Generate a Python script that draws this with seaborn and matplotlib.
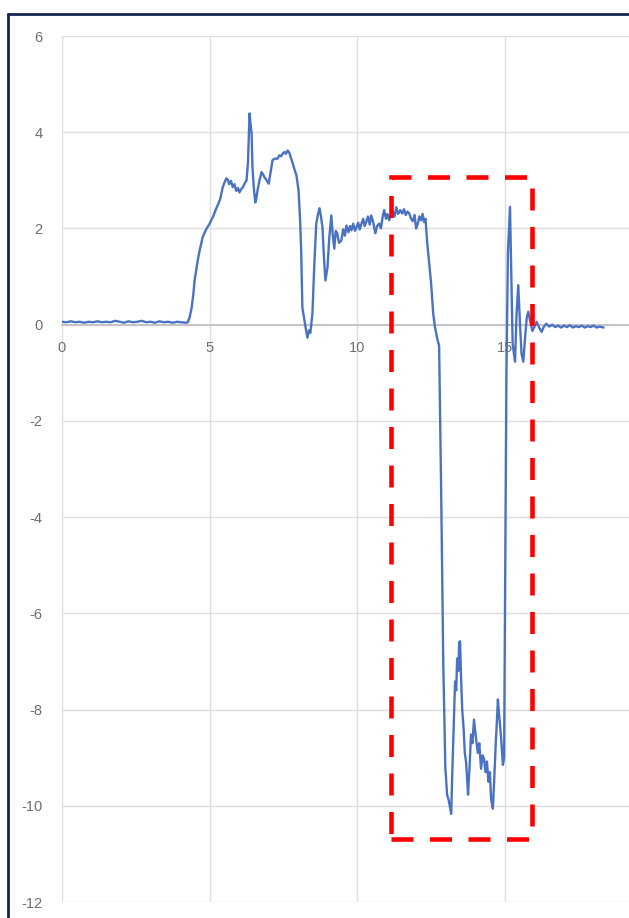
import seaborn as sns
import matplotlib.pyplot as plt
import numpy as np
import pandas as pd
from matplotlib.patches import Rectangle
from matplotlib.lines import Line2D

# 구간별로 그림에서 읽은 값 (x, y)
t_base = [0.00, 0.15, 0.30, 0.45, 0.60, 0.75, 0.90, 1.05, 1.20, 1.35, 1.50, 1.65, 1.80, 1.95, 2.10,
          2.25, 2.40, 2.55, 2.70, 2.85, 3.00, 3.15, 3.30, 3.45, 3.60, 3.75, 3.90, 4.05, 4.20]
v_base = [0.06, 0.05, 0.07, 0.05, 0.06, 0.04, 0.06, 0.05, 0.07, 0.05, 0.06, 0.05, 0.08, 0.06, 0.04,
          0.07, 0.05, 0.06, 0.08, 0.05, 0.06, 0.04, 0.07, 0.05, 0.06, 0.04, 0.06, 0.05, 0.04]

t_rise = [4.26, 4.32, 4.39, 4.45, 4.49, 4.55, 4.60, 4.66, 4.71, 4.76, 4.82, 4.88, 5.00, 5.06, 5.12,
          5.18, 5.24, 5.30, 5.36, 5.44, 5.50, 5.56, 5.61, 5.66, 5.72, 5.78, 5.84, 5.90, 5.96, 6.01,
          6.07, 6.12, 6.18, 6.25, 6.30, 6.35, 6.38, 6.42, 6.45, 6.50, 6.55, 6.58, 6.62, 6.68, 6.76,
          6.81, 6.86, 6.93, 7.00, 7.06, 7.13, 7.20, 7.30, 7.36, 7.42, 7.48, 7.53, 7.58, 7.64, 7.70,
          7.76, 7.80, 7.86, 7.94, 8.01, 8.06, 8.10, 8.14]
v_rise = [0.05, 0.15, 0.35, 0.65, 0.92, 1.15, 1.35, 1.54, 1.68, 1.81, 1.90, 1.98, 2.10, 2.18, 2.25,
          2.35, 2.44, 2.52, 2.62, 2.85, 2.95, 3.04, 3.02, 2.92, 2.99, 2.86, 2.92, 2.78, 2.84, 2.75,
          2.82, 2.85, 2.93, 3.00, 3.40, 4.39, 4.20, 3.98, 3.27, 2.80, 2.54, 2.62, 2.79, 2.98, 3.17,
          3.12, 3.06, 3.00, 2.93, 3.15, 3.42, 3.45, 3.45, 3.52, 3.50, 3.56, 3.59, 3.55, 3.62, 3.57,
          3.45, 3.38, 3.25, 3.10, 2.79, 2.20, 1.54, 0.35]

t_mid = [8.21, 8.26, 8.31, 8.36, 8.41, 8.48, 8.54, 8.61, 8.67, 8.72, 8.77, 8.82, 8.87, 8.92, 8.99,
         9.05, 9.12, 9.17, 9.22, 9.27, 9.32, 9.38, 9.46, 9.52, 9.58, 9.63, 9.70, 9.75, 9.80, 9.86,
         9.92, 9.97, 10.03, 10.08, 10.14, 10.20, 10.25, 10.30, 10.36, 10.42, 10.47, 10.53, 10.61, 10.67, 10.74,
         10.80, 10.86, 10.91, 10.97, 11.02, 11.08, 11.14, 11.20, 11.26, 11.32, 11.38, 11.45, 11.52, 11.58, 11.64,
         11.70, 11.76, 11.82, 11.88, 11.94, 11.99, 12.05, 12.10, 12.16, 12.21, 12.26, 12.31, 12.36, 12.43, 12.50,
         12.57, 12.63, 12.70]
v_mid = [0.08, -0.10, -0.27, -0.12, -0.17, 0.23, 1.20, 2.10, 2.30, 2.42, 2.25, 2.02, 1.40, 0.92, 1.19,
         1.80, 2.27, 1.85, 1.58, 1.95, 1.90, 1.70, 1.75, 1.98, 1.85, 2.06, 1.92, 2.05, 1.96, 2.10,
         1.95, 2.02, 2.12, 1.98, 2.10, 2.20, 2.05, 2.13, 2.25, 2.08, 2.27, 2.15, 1.90, 2.05, 2.10,
         2.00, 2.25, 2.38, 2.20, 2.30, 2.17, 2.28, 2.35, 2.25, 2.44, 2.30, 2.38, 2.31, 2.40, 2.28,
         2.35, 2.31, 2.20, 2.15, 2.28, 2.00, 2.10, 2.25, 2.17, 2.30, 2.13, 2.20, 1.75, 1.30, 0.85,
         0.23, -0.05, -0.27]

t_neg = [12.77, 12.84, 12.91, 12.98, 13.04, 13.10, 13.18, 13.21, 13.26, 13.31, 13.35, 13.38, 13.42, 13.45, 13.48,
         13.51, 13.55, 13.60, 13.64, 13.68, 13.72, 13.75, 13.80, 13.85, 13.90, 13.95, 14.02, 14.08, 14.13, 14.19,
         14.24, 14.29, 14.34, 14.39, 14.44, 14.49, 14.53, 14.59, 14.64, 14.69, 14.73, 14.76, 14.80, 14.86, 14.93]
v_neg = [-0.44, -3.50, -7.00, -9.20, -9.77, -9.90, -10.17, -9.44, -8.40, -7.42, -7.60, -6.94, -7.20, -6.60, -6.58,
         -7.27, -7.98, -8.40, -8.90, -9.08, -9.45, -9.77, -9.20, -8.52, -8.70, -8.21, -8.60, -8.90, -8.70, -9.23,
         -8.95, -9.02, -9.30, -9.08, -9.50, -9.30, -9.85, -10.06, -9.40, -8.67, -8.20, -7.79, -8.10, -8.52, -9.15]

t_tail = [14.97, 15.01, 15.05, 15.10, 15.17, 15.21, 15.26, 15.34, 15.39, 15.45, 15.51, 15.56, 15.62, 15.69, 15.74,
          15.79, 15.86, 15.93, 16.00, 16.07, 16.15, 16.24, 16.32, 16.40, 16.50, 16.60, 16.70, 16.80, 16.90, 17.00,
          17.10, 17.20, 17.30, 17.40, 17.50, 17.60, 17.70, 17.80, 17.90, 18.00, 18.10, 18.20, 18.34]
v_tail = [-9.00, -5.00, -1.00, 1.50, 2.45, 1.20, -0.40, -0.77, 0.20, 0.82, 0.00, -0.60, -0.77, -0.20, 0.15,
          0.27, 0.05, -0.13, -0.04, 0.06, -0.05, -0.15, -0.04, 0.02, -0.04, 0.00, -0.05, -0.02, -0.06, -0.02,
          -0.05, -0.01, -0.06, -0.03, -0.05, -0.02, -0.06, -0.03, -0.05, -0.02, -0.06, -0.04, -0.06]

x_ticks = [0, 5, 10, 15]
y_ticks = [6, 4, 2, 0, -2, -4, -6, -8, -10, -12]

# 빨간 점선 박스 (강조 영역)
box_x0, box_x1 = 11.15, 15.91
box_y0, box_y1 = -10.69, 3.07

df = pd.DataFrame({
    "t": np.concatenate([t_base, t_rise, t_mid, t_neg, t_tail]),
    "v": np.concatenate([v_base, v_rise, v_mid, v_neg, v_tail]),
})

sns.set_style("white")
plt.rcParams['font.family'] = ['Liberation Sans', 'DejaVu Sans']
plt.rcParams['axes.unicode_minus'] = False   # 엑셀처럼 하이픈 마이너스

fig = plt.figure(figsize=(6.29, 9.18), dpi=100)
ax = fig.add_axes([62 / 629, 1 - 902 / 918, 1 - 62 / 629, (902 - 36) / 918])

sns.lineplot(data=df, x="t", y="v", sort=False, estimator=None, color="#4a72c4", linewidth=1.7, ax=ax, zorder=3)

ax.set_xlim(0, 19.2)
ax.set_ylim(-12, 6)
ax.set_xticks(x_ticks)
ax.set_yticks(y_ticks)
ax.set_xlabel("")
ax.set_ylabel("")
ax.grid(True, color="#dedede", linewidth=1.0)

for s in ["top", "right", "left"]:
    ax.spines[s].set_visible(False)
ax.spines["bottom"].set_position(("data", 0))
ax.spines["bottom"].set_color("#c4c4c4")
ax.spines["bottom"].set_linewidth(1.4)
ax.tick_params(axis="x", length=0, pad=12, labelsize=10.5, labelcolor="#6e6e6e")
ax.tick_params(axis="y", length=0, pad=14, labelsize=10.5, labelcolor="#6e6e6e")
ax.set_axisbelow(True)

rect = Rectangle((box_x0, box_y0), box_x1 - box_x0, box_y1 - box_y0, fill=False,
                 edgecolor="#ff0000", linewidth=3.3, linestyle=(0, (4.8, 3.6)), zorder=4, clip_on=False)
ax.add_patch(rect)

# 바깥 테두리
fig.add_artist(Line2D([8 / 629, 1], [1 - 14 / 918, 1 - 14 / 918], color="#13264f", linewidth=2.0))
fig.add_artist(Line2D([8 / 629, 8 / 629], [0, 1 - 14 / 918], color="#13264f", linewidth=2.0))

fig.savefig("out.png", dpi=100)
